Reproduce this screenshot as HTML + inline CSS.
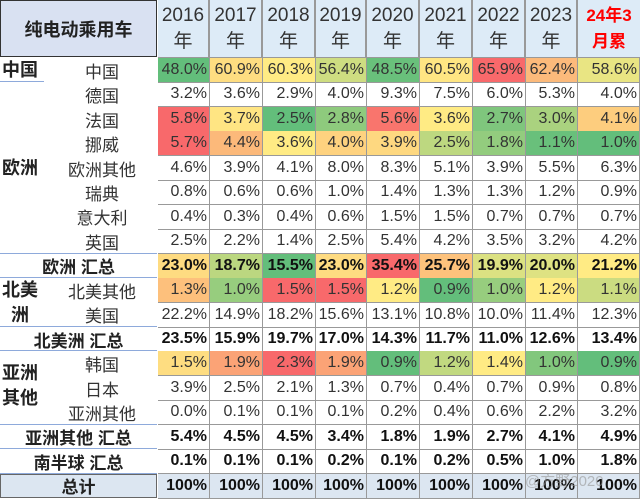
<!DOCTYPE html>
<html><head><meta charset="utf-8"><style>
body{margin:0;width:640px;height:500px;background:#fff;overflow:hidden;font-family:"Liberation Sans","Noto Sans CJK SC",sans-serif}
#t{position:relative;width:640px;height:500px}
.c{position:absolute;box-sizing:border-box;display:flex;align-items:center;justify-content:flex-end;padding-right:2px;font-size:16px;color:#333;border-right:1px solid #999;border-bottom:1px solid #999;white-space:nowrap}
.l{position:absolute;display:flex;align-items:center;justify-content:center;font-size:17px;color:#222;white-space:nowrap}
.h{position:absolute;box-sizing:border-box;background:#ddebf7;border-right:2px solid #999;border-bottom:1px solid #999;text-align:center;font-size:19px;line-height:26px;color:#333;padding-top:3px}
</style></head><body>
<div id="t"></div>
<script>
const years=["2016\n年","2017\n年","2018\n年","2019\n年","2020\n年","2021\n年","2022\n年","2023\n年","24年3\n月累"];
const rowNames=["中国","德国","法国","挪威","欧洲其他","瑞典","意大利","英国","欧洲 汇总","北美其他","美国","北美洲 汇总","韩国","日本","亚洲其他","亚洲其他 汇总","南半球 汇总","总计"];
const r0=[48.0,60.9,60.3,56.4,48.5,60.5,65.9,62.4,58.6];
const r1=[3.2,3.6,2.9,4.0,9.3,7.5,6.0,5.3,4.0];
const r2=[5.8,3.7,2.5,2.8,5.6,3.6,2.7,3.0,4.1];
const r3=[5.7,4.4,3.6,4.0,3.9,2.5,1.8,1.1,1.0];
const r4=[4.6,3.9,4.1,8.0,8.3,5.1,3.9,5.5,6.3];
const r5=[0.8,0.6,0.6,1.0,1.4,1.3,1.3,1.2,0.9];
const r6=[0.4,0.3,0.4,0.6,1.5,1.5,0.7,0.7,0.7];
const r7=[2.5,2.2,1.4,2.5,5.4,4.2,3.5,3.2,4.2];
const r8=[23.0,18.7,15.5,23.0,35.4,25.7,19.9,20.0,21.2];
const r9=[1.3,1.0,1.5,1.5,1.2,0.9,1.0,1.2,1.1];
const r10=[22.2,14.9,18.2,15.6,13.1,10.8,10.0,11.4,12.3];
const r11=[23.5,15.9,19.7,17.0,14.3,11.7,11.0,12.6,13.4];
const r12=[1.5,1.9,2.3,1.9,0.9,1.2,1.4,1.0,0.9];
const r13=[3.9,2.5,2.1,1.3,0.7,0.4,0.7,0.9,0.8];
const r14=[0.0,0.1,0.1,0.1,0.2,0.4,0.6,2.2,3.2];
const r15=[5.4,4.5,4.5,3.4,1.8,1.9,2.7,4.1,4.9];
const r16=[0.1,0.1,0.1,0.2,0.1,0.2,0.5,1.0,1.8];
const r17=[100,100,100,100,100,100,100,100,100];
const rows=[r0,r1,r2,r3,r4,r5,r6,r7,r8,r9,r10,r11,r12,r13,r14,r15,r16,r17];
const scaled=[0,2,3,8,9,12];
const bold=[8,11,15,16,17];
const T=document.getElementById('t');
const colX=[158,210,263,316,367,420,473,526,578,640];
const top0=58, rh=24.45;
function rowY(i){return top0+i*rh;}
function lerp(a,b,t){return a.map((v,k)=>Math.round(v+(b[k]-v)*t));}
function color(v,arr){const s=[...arr].sort((a,b)=>a-b);const mn=s[0],mx=s[s.length-1];const md=s[Math.floor(s.length/2)];
 const G=[99,190,123],Y=[255,235,132],R=[248,105,107];let c;
 if(v<=md)c=lerp(G,Y,md===mn?1:(v-mn)/(md-mn));else c=lerp(Y,R,(v-md)/(mx-md));return `rgb(${c})`;}
let lh=document.createElement('div');lh.className='l';


lh.style.cssText='left:0;top:0;width:157px;height:57px;background:#d9e1f2;border:1px solid #333;box-sizing:border-box;font-weight:bold;font-size:18px';
lh.textContent='纯电动乘用车';T.appendChild(lh);
years.forEach((y,j)=>{const d=document.createElement('div');d.className='h';
 
 
 d.style.left=colX[j]+'px';d.style.top='0px';d.style.width=(colX[j+1]-colX[j])+'px';d.style.height='58px';
 d.innerHTML=y.replace('\n','<br>');if(j===8){d.style.color='#f00';d.style.fontWeight='bold';d.style.fontSize='17px';d.style.borderRight='none';}
 T.appendChild(d);});
rows.forEach((arr,i)=>{arr.forEach((v,j)=>{const d=document.createElement('div');d.className='c';
 
 
 d.style.left=colX[j]+'px';d.style.top=rowY(i)+'px';d.style.width=(colX[j+1]-colX[j])+'px';d.style.height=(rh+0.6)+'px';
 d.textContent=i===17?'100%':v.toFixed(1)+'%';
 if(scaled.includes(i))d.style.background=color(v,arr);
 if(bold.includes(i)){d.style.fontWeight='bold';d.style.color='#111';}
 if(i===17)d.style.background='#dce6f1';
 T.appendChild(d);});});
const sub=[0,1,2,3,4,5,6,7,9,10,12,13,14];
sub.forEach(i=>{const d=document.createElement('div');d.className='l';
 
 
 d.style.cssText=`left:50px;width:104px;top:${rowY(i)}px;height:${rh}px;color:#333`;d.textContent=rowNames[i];T.appendChild(d);});
bold.forEach(i=>{const d=document.createElement('div');d.className='l';
 
 
 d.style.cssText=`left:0;width:157px;top:${rowY(i)}px;height:${rh}px;font-weight:bold;color:#222;${i===17?'background:#dce6f1;border:1px solid #666;box-sizing:border-box':''}`;
 d.textContent=rowNames[i];T.appendChild(d);});
const regions=[["中国",0,1],["欧洲",4,1],["北美<br>洲",9,2],["亚洲<br>其他",12.4,2]];
regions.forEach(r=>{const d=document.createElement('div');d.className='l';
 
 
 d.style.cssText=`left:2px;width:42px;top:${rowY(r[1])}px;height:${rh*r[2]}px;font-weight:bold;font-size:18px;line-height:${r[2]===1?rh:rh}px;text-align:center;justify-content:flex-start`;
 d.innerHTML=r[0];T.appendChild(d);});
[1,8,9,11,12,15,16,17].forEach(i=>{const d=document.createElement('div');
 
 
 d.style.cssText=`position:absolute;left:0;width:157px;top:${rowY(i)-1}px;height:1px;background:#8eaadb`;
 if(i===1)d.style.width='44px';T.appendChild(d);});
const wm=document.createElement('div');


wm.style.cssText='position:absolute;left:525px;top:470px;font-size:15px;color:rgba(150,150,150,0.6)';
wm.textContent='@方野2020';T.appendChild(wm);
</script>
</body></html>
